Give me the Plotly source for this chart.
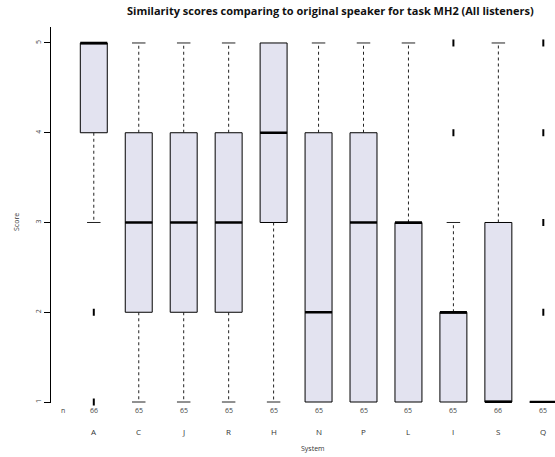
import plotly.graph_objects as go

# ---- data ----
systems = ["A", "C", "J", "R", "H", "N", "P", "L", "I", "S", "Q"]
n_counts = [66, 65, 65, 65, 65, 65, 65, 65, 65, 66, 65]
q1 = [4, 2, 2, 2, 3, 1, 1, 1, 1, 1, 1]
median = [5, 3, 3, 3, 4, 2, 3, 3, 2, 1, 1]
q3 = [5, 4, 4, 4, 5, 4, 4, 3, 2, 3, 1]
whisker_low = [3, 1, 1, 1, 1, 1, 1, 1, 1, 1, 1]
whisker_high = [5, 5, 5, 5, 5, 5, 5, 5, 3, 5, 1]
outliers = {"A": [2, 1], "I": [4, 5], "Q": [2, 3, 4, 5]}
y_ticks = [1, 2, 3, 4, 5]

title = "Similarity scores comparing to original speaker for task MH2 (All listeners)"

positions = list(range(1, len(systems) + 1))
box_w = 0.6
cap_w = 0.3
fill = "#E3E3F0"
font = "Open Sans"

fig = go.Figure()

# boxes
fig.add_trace(go.Box(
    x=positions, q1=q1, median=median, q3=q3,
    lowerfence=q1, upperfence=q3,
    width=box_w, whiskerwidth=0,
    fillcolor=fill, line=dict(color="black", width=1),
    boxpoints=False, showlegend=False, hoverinfo="skip",
))

# whiskers (dashed) and caps
wx, wy, cx, cy = [], [], [], []
for p, lo, hi, a, b in zip(positions, whisker_low, whisker_high, q1, q3):
    if hi > b:
        wx += [p, p, None]; wy += [b, hi, None]
        cx += [p - cap_w / 2, p + cap_w / 2, None]; cy += [hi, hi, None]
    if lo < a:
        wx += [p, p, None]; wy += [a, lo, None]
        cx += [p - cap_w / 2, p + cap_w / 2, None]; cy += [lo, lo, None]
fig.add_trace(go.Scatter(x=wx, y=wy, mode="lines",
                         line=dict(color="#222", width=1, dash="3px,3px"),
                         showlegend=False, hoverinfo="skip"))
fig.add_trace(go.Scatter(x=cx, y=cy, mode="lines",
                         line=dict(color="#222", width=1),
                         showlegend=False, hoverinfo="skip"))

# medians (thick)
mx, my = [], []
for p, m in zip(positions, median):
    mx += [p - box_w / 2, p + box_w / 2, None]; my += [m, m, None]
fig.add_trace(go.Scatter(x=mx, y=my, mode="lines",
                         line=dict(color="black", width=2.5),
                         showlegend=False, hoverinfo="skip", cliponaxis=False))

# outliers
ox, oy = [], []
for s, vals in outliers.items():
    p = positions[systems.index(s)]
    for v in vals:
        ox.append(p); oy.append(v)
fig.add_trace(go.Scatter(x=ox, y=oy, mode="markers",
                         marker=dict(symbol="line-ns", size=5,
                                     line=dict(color="black", width=2)),
                         showlegend=False, hoverinfo="skip", cliponaxis=False))

# annotations: counts, letters
plot_top, plot_bot = 27, 403
ph = plot_bot - plot_top
def py(pix):
    return (plot_bot - pix) / ph

def A(**kw):
    d = dict(showarrow=False, xanchor="center", yanchor="middle")
    d.update(kw)
    return d

ann = []
for p, s, n in zip(positions, systems, n_counts):
    ann.append(A(x=p, y=py(411), xref="x", yref="paper", text=str(n),
                 font=dict(size=7, color="#444", family=font)))
    ann.append(A(x=p, y=py(431), xref="x", yref="paper", text=s,
                 font=dict(size=8, color="#333", family=font)))
ann.append(A(x=0.31, y=py(411), xref="x", yref="paper", text="n",
             font=dict(size=7, color="#444", family=font)))
ann.append(A(x=(313 - 51) / 504, y=py(448), xref="paper", yref="paper", text="System",
             font=dict(size=7, color="#333", family=font)))
ann.append(A(x=(17 - 51) / 504, y=py(222), xref="paper", yref="paper", text="Score",
             textangle=-90, font=dict(size=7, color="#333", family=font)))
ann.append(A(x=(330 - 51) / 504, y=py(11), xref="paper", yref="paper",
             text="<b>" + title + "</b>",
             font=dict(size=11, color="#111", family=font)))

fig.update_layout(
    width=555, height=457,
    margin=dict(l=51, r=0, t=plot_top, b=457 - plot_bot),
    paper_bgcolor="white", plot_bgcolor="white",
    showlegend=False,
    annotations=ann,
    xaxis=dict(range=[0.048, 11.26], showgrid=False, zeroline=False,
               showticklabels=False, ticks="", showline=False),
    yaxis=dict(range=[0.989, 5.178], showgrid=False, zeroline=False,
               tickvals=y_ticks, ticktext=[str(t) for t in y_ticks],
               ticks="outside", ticklen=6, tickcolor="black",
               tickangle=-90, showline=True, linecolor="black", linewidth=1,
               automargin=False,
               tickfont=dict(size=7, color="#444", family=font)),
)

fig.write_html("out.html",
               config={"displayModeBar": False, "staticPlot": True},
               post_script="document.body.style.margin='0px';document.body.style.overflow='hidden';")
